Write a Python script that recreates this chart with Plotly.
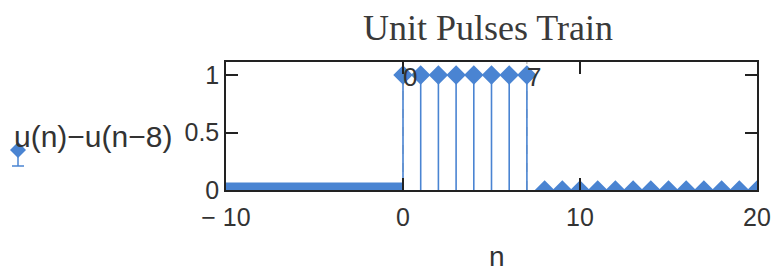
import plotly.graph_objects as go

# data
n_pulse = [0, 1, 2, 3, 4, 5, 6, 7]
v_pulse = [1, 1, 1, 1, 1, 1, 1, 1]
n_after = [8, 9, 10, 11, 12, 13, 14, 15, 16, 17, 18, 19, 20]
v_after = [0] * len(n_after)
n_before = [-10, 0]
v_before = [0, 0]
x_markers = [0, 7]
x_tickvals = [-10, 0, 10, 20]
x_ticktext = ["\u2212 10", "0", "10", "20"]
y_tickvals = [0, 0.5, 1]
y_ticktext = ["0", "0.5", "1"]

BLUE = "#4a84d2"
TXT = "#333333"
OFF = 8  # page body margin
W, H = 781 - OFF, 273 - OFF
L, T = 226 - OFF, 62 - OFF
R = W - (757 - OFF)
B = H - (190 - OFF)
pw = W - L - R
ph = H - T - B

fig = go.Figure()

# marker (dashed) lines
for xm in x_markers:
    fig.add_trace(go.Scatter(x=[xm, xm], y=[0, 1.2], mode="lines",
                             line=dict(color="#a0a0a0", width=1, dash="dash"),
                             hoverinfo="skip", showlegend=False))

# stems
sx, sy = [], []
for n, v in zip(n_pulse, v_pulse):
    sx += [n, n, None]
    sy += [0, v, None]
fig.add_trace(go.Scatter(x=sx, y=sy, mode="lines", line=dict(color=BLUE, width=1.6),
                         hoverinfo="skip", showlegend=False))

# band for negative n
fig.add_trace(go.Scatter(x=n_before, y=v_before, mode="lines",
                         line=dict(color=BLUE, width=15), showlegend=False))

fig.add_trace(go.Scatter(x=n_pulse, y=v_pulse, mode="markers",
                         marker=dict(symbol="diamond", size=15, color=BLUE),
                         showlegend=False))
fig.add_trace(go.Scatter(x=n_after, y=v_after, mode="markers",
                         marker=dict(symbol="diamond", size=15, color=BLUE),
                         showlegend=False))

axis_common = dict(showline=True, linecolor="#222222", linewidth=1.5, mirror="allticks",
                   ticks="inside", ticklen=12, tickwidth=1.5, tickcolor="#222222",
                   showgrid=False, zeroline=False,
                   tickfont=dict(family="Liberation Sans, Arial", size=25, color=TXT))

fig.update_layout(
    width=W, height=H,
    margin=dict(l=L, r=R, t=T, b=B, autoexpand=False),
    paper_bgcolor="white", plot_bgcolor="white",
    title=dict(text="Unit Pulses Train", x=(488 - OFF) / W, xanchor="center",
               y=1 - (27 - OFF) / H, yanchor="middle",
               font=dict(family="Liberation Serif, Times New Roman", size=36, color="#3a3a3a")),
    xaxis=dict(range=[-10, 20], tickvals=x_tickvals, ticktext=x_ticktext,
               ticklabelstandoff=4, **axis_common),
    yaxis=dict(range=[0, 1.113], tickvals=y_tickvals, ticktext=y_ticktext, **axis_common),
    showlegend=False,
)

# marker labels
for xm in x_markers:
    fig.add_annotation(x=xm, xref="x", y=1, yref="paper", yshift=2, text=str(xm),
                       showarrow=False, xanchor="left", yanchor="top", xshift=-2,
                       font=dict(family="Liberation Sans, Arial", size=26, color=TXT))


def px(xp):
    return (xp - OFF - L) / pw


def py(yp):
    return (H - B - (yp - OFF)) / ph


# x axis label
fig.add_annotation(x=px(497), xref="paper", y=py(256), yref="paper", text="n",
                   showarrow=False, xanchor="center", yanchor="middle",
                   font=dict(family="Liberation Sans, Arial", size=28, color=TXT))
# y label
fig.add_annotation(x=px(12), xref="paper", y=py(136), yref="paper", text="u(n)\u2212u(n\u22128)",
                   showarrow=False, xanchor="left", yanchor="middle",
                   font=dict(family="Liberation Sans, Arial", size=30, color=TXT))
# legend symbol
fig.add_shape(type="line", xref="paper", yref="paper", x0=px(18), x1=px(18), y0=py(152), y1=py(166),
              line=dict(color=BLUE, width=1.5))
fig.add_shape(type="line", xref="paper", yref="paper", x0=px(12), x1=px(24), y0=py(166), y1=py(166),
              line=dict(color=BLUE, width=1.5))
fig.add_shape(type="path", xref="paper", yref="paper",
              path=f"M {px(10)} {py(150)} L {px(18)} {py(142)} L {px(26)} {py(150)} L {px(18)} {py(158)} Z",
              fillcolor=BLUE, line=dict(color=BLUE, width=0))

fig.write_html("out.html")
